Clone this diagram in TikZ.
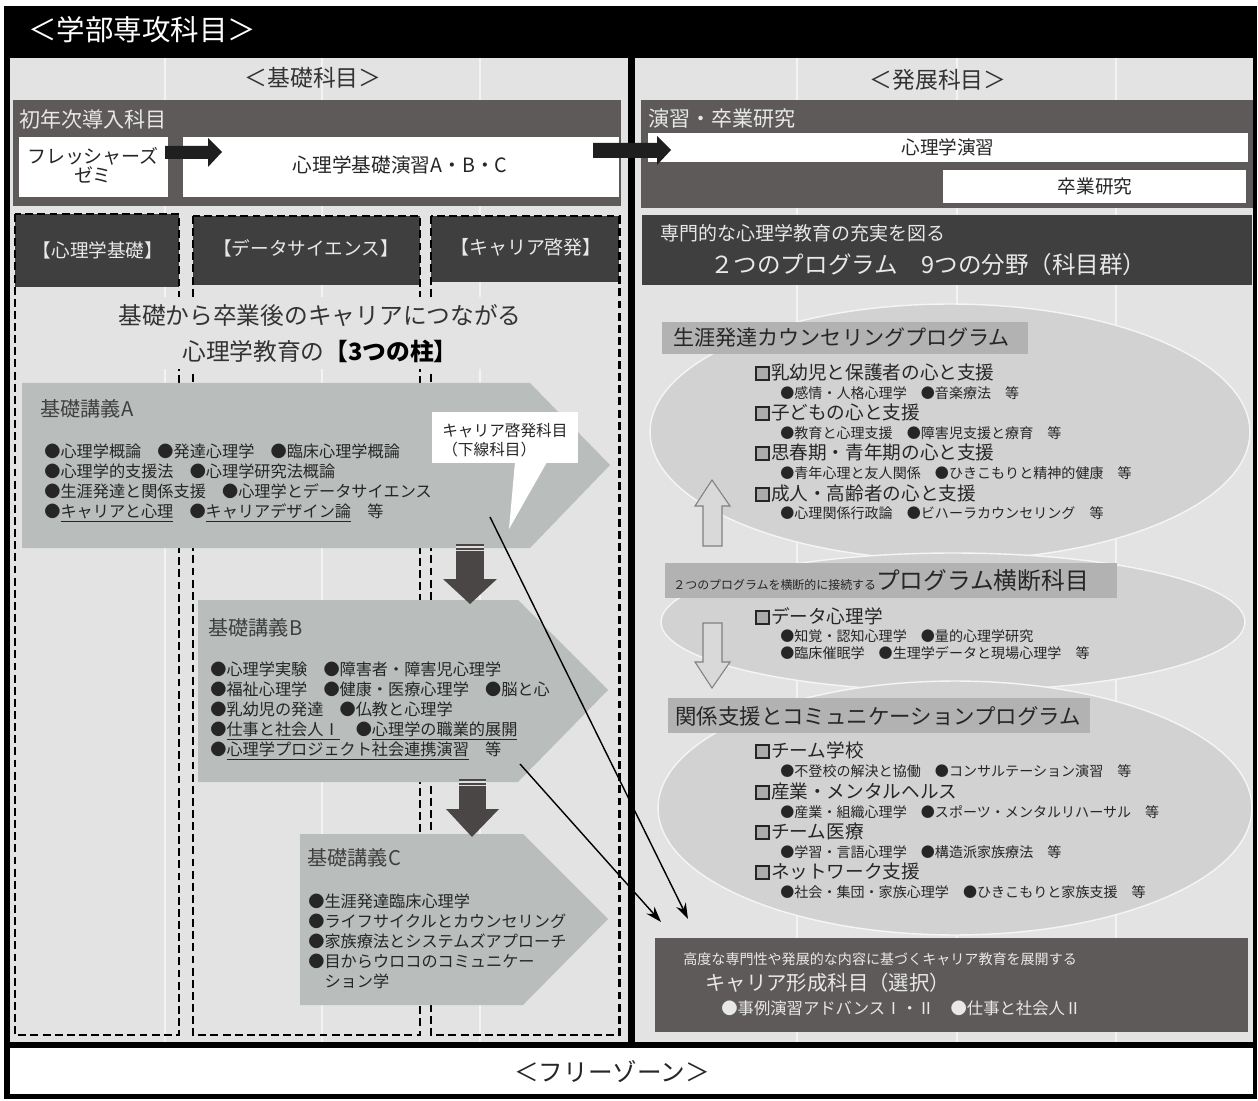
\documentclass[tikz,border=0pt]{standalone}
\usepackage{fontspec}
\setmainfont{Noto Sans CJK JP}
\usetikzlibrary{arrows.meta}

\definecolor{panelgray}{HTML}{E3E3E3}
\definecolor{boxbrown}{HTML}{5E5A59}
\definecolor{boxdark}{HTML}{3F3F3F}
\definecolor{pentgray}{HTML}{B9BDBC}
\definecolor{arrowdark}{HTML}{4A4646}
\definecolor{ellgray}{HTML}{D2D2D2}
\definecolor{labgray}{HTML}{B2B2B2}
\definecolor{txtdark}{HTML}{262626}
\definecolor{txtlight}{HTML}{E8E8E8}

\newcommand{\fsz}[2]{\fontsize{#1}{#2}\selectfont}
\newcommand{\sq}{\tikz[baseline=0pt]\draw[fill=gray!65, draw=black!85, line width=0.9pt] (0.06em,-0.04em) rectangle (0.74em,0.64em);\hspace{0.08em}}

\tikzset{
	txt/.style={inner sep=0pt, text=txtdark},
	ltxt/.style={inner sep=0pt, text=txtlight},
	pillar/.style={draw=black, line width=1.7pt, dash pattern=on 4.5pt off 2.4pt},
	blockarr/.style={fill=black!88},
	downarr/.style={fill=arrowdark},
	stripe/.style={draw=white!75!gray, line width=0.6pt},
	ell/.style={fill=ellgray, draw=white!92!gray, line width=0.8pt},
	hollowarr/.style={fill=gray!30, draw=gray, line width=0.6pt},
	item/.style={txt, anchor=west, font=\fsz{10.6}{12}},
	subitem/.style={txt, anchor=west, font=\fsz{8}{9}},
	bullets/.style={txt, anchor=north west, align=left, font=\fsz{9.2}{11.4}},
	lecture/.style={inner sep=0pt, text=black!75, anchor=west, font=\fsz{11.5}{12}},
	linkarr/.style={-{Stealth[length=9pt,width=6pt]}, line width=0.8pt},
}

\begin{document}
\begin{tikzpicture}[x=0.02cm,y=-0.02cm] % coordinates in pixels
	\useasboundingbox (0,0) rectangle (1258,1101);
	\fill[white] (0,0) rectangle (1258,1101);

	% frame and the two panels
	\fill[black] (4,6) rectangle (1257,1099);
	\fill[panelgray] (10,58) rectangle (628,1042);
	\fill[panelgray] (635,58) rectangle (1253,1042);
	\fill[white] (10,1048) rectangle (1253,1094);
	\draw[white!55!panelgray, line width=1pt] (165,58) -- (165,1042) (322,58) -- (322,1042) (480,58) -- (480,1042)
		(797,58) -- (797,1042) (957,58) -- (957,1042) (1116,58) -- (1116,1042);

	\node[anchor=west, inner sep=0pt, text=white, font=\fsz{16.2}{17}] (hdr) at (28,30) {＜学部専攻科目＞};
	\node[txt, text=black!80, font=\fsz{13}{14}] (basic) at (313,78) {＜基礎科目＞};
	\node[txt, text=black!80, font=\fsz{13}{14}] (adv) at (938,80) {＜発展科目＞};

	% first year block
	\fill[boxbrown] (13,100) rectangle (621,206);
	\node[ltxt, anchor=west, font=\fsz{12}{13}] (first) at (19,119) {初年次導入科目};
	\fill[white] (19,137) rectangle (168,197);
	\fill[white] (183,137) rectangle (619,197);
	\node[txt, align=center, font=\fsz{10.8}{11}] (fresh) at (93,165) {フレッシャーズ\\ゼミ};
	\node[txt, font=\fsz{11.2}{12}] (enshuA) at (400,165) {心理学基礎演習A・B・C};
	\fill[blockarr] (165,146) -- (208,146) -- (208,138) -- (222,152) -- (208,167) -- (208,159) -- (165,159) -- cycle;

	% seminar block
	\fill[boxbrown] (641,100) rectangle (1253,208);
	\node[ltxt, anchor=west, font=\fsz{12}{13}] (semi) at (648,119) {演習・卒業研究};
	\fill[white] (648,133) rectangle (1248,162);
	\fill[white] (943,170) rectangle (1246,203);
	\node[txt, font=\fsz{10.6}{12}] (psyen) at (948,147) {心理学演習};
	\node[txt, font=\fsz{10.6}{12}] (thesis) at (1095,186) {卒業研究};
	\fill[blockarr] (593,143) -- (657,143) -- (657,136) -- (671,150) -- (657,165) -- (657,158) -- (593,158) -- cycle;

	% three pillars
	\fill[boxdark] (15,214) rectangle (179,287);
	\fill[boxdark] (193,216) rectangle (420,285);
	\fill[boxdark] (431,216) rectangle (619,282);
	\draw[pillar] (15,214) rectangle (179,1035);
	\draw[pillar] (193,216) rectangle (420,1035);
	\draw[pillar] (431,216) rectangle (619,1035);
	\node[ltxt, font=\fsz{10.6}{11}] (col1) at (98,250) {【心理学基礎】};
	\node[ltxt, font=\fsz{10.6}{11}] (col2) at (306,248) {【データサイエンス】};
	\node[ltxt, font=\fsz{10.8}{11}] (col3) at (526,247) {【キャリア啓発】};

	\fill[panelgray] (22,297) rectangle (612,369);
	\node[txt, text=black!80, font=\fsz{13.5}{14}] (lead1) at (320,316) {基礎から卒業後のキャリアにつながる};
	\node[txt, text=black!80, font=\fsz{13.5}{14}] (lead2) at (320,351) {心理学教育の{\color{black}\textbf{【3つの柱】}}};

	% lecture A
	\fill[pentgray] (22,383) -- (530,383) -- (610,465) -- (530,548) -- (22,548) -- cycle;
	\node[lecture] (lecA) at (40,409) {基礎講義A};
	\node[bullets] (listA) at (44,443) {●心理学概論　●発達心理学　●臨床心理学概論\\
		●心理学的支援法　●心理学研究法概論\\
		●生涯発達と関係支援　●心理学とデータサイエンス\\
		●\underline{キャリアと心理}　●\underline{キャリアデザイン論}　等};
	\fill[white] (432,412) rectangle (578,463);
	\fill[white] (515,462) -- (547,462) -- (509,529) -- cycle;
	\node[txt, anchor=north west, align=left, font=\fsz{8.9}{11}] (note) at (442,423) {キャリア啓発科目\\（下線科目）};
	\coordinate (fromA) at (490,517);

	% lecture B
	\fill[pentgray] (198,600) -- (518,600) -- (608,690) -- (518,782) -- (198,782) -- cycle;
	\node[lecture] (lecB) at (208,628) {基礎講義B};
	\node[bullets] (listB) at (210,661) {●心理学実験　●障害者・障害児心理学\\
		●福祉心理学　●健康・医療心理学　●脳と心\\
		●乳幼児の発達　●仏教と心理学\\
		●\underline{仕事と社会人Ⅰ}　●\underline{心理学の職業的展開}\\
		●\underline{心理学プロジェクト社会連携演習}　等};
	\coordinate (fromB) at (520,764);

	\fill[downarr] (456,544) rectangle (484,580);
	\fill[downarr] (443,579) -- (497,579) -- (470,604) -- cycle;
	\draw[stripe] (456,547) -- (484,547) (456,550.5) -- (484,550.5);

	% lecture C
	\fill[pentgray] (300,834) -- (523,834) -- (608,919) -- (523,1005) -- (300,1005) -- cycle;
	\node[lecture] (lecC) at (307,858) {基礎講義C};
	\node[bullets] (listC) at (308,893) {●生涯発達臨床心理学\\
		●ライフサイクルとカウンセリング\\
		●家族療法とシステムズアプローチ\\
		●目からウロコのコミュニケー\\
		\hphantom{●}ション学};

	\fill[downarr] (459,779) rectangle (486,810);
	\fill[downarr] (446,809) -- (499,809) -- (472,837) -- cycle;
	\draw[stripe] (459,782) -- (486,782) (459,785.5) -- (486,785.5);

	% right panel
	\fill[boxdark] (642,215) rectangle (1252,285);
	\node[ltxt, anchor=west, font=\fsz{10.8}{12}] (aim1) at (660,233) {専門的な心理学教育の充実を図る};
	\node[ltxt, anchor=west, font=\fsz{13.4}{14}] (aim2) at (710,265) {２つのプログラム　9つの分野（科目群）};

	\fill[ell] (950,432) ellipse [x radius=6cm, y radius=2.56cm];
	\fill[ell] (953,622) ellipse [x radius=5.84cm, y radius=1.38cm];
	\fill[ell] (955,808) ellipse [x radius=5.94cm, y radius=2.54cm];

	\fill[labgray] (662,322) rectangle (1028,354);
	\node[txt, anchor=west, font=\fsz{12}{13}] (prog1) at (673,338) {生涯発達カウンセリングプログラム};
	\node[item] (i11) at (755,372) {\sq 乳幼児と保護者の心と支援};
	\node[subitem] (s11) at (780,393) {●感情・人格心理学　●音楽療法　等};
	\node[item] (i12) at (755,412) {\sq 子どもの心と支援};
	\node[subitem] (s12) at (780,433) {●教育と心理支援　●障害児支援と療育　等};
	\node[item] (i13) at (755,452) {\sq 思春期・青年期の心と支援};
	\node[subitem] (s13) at (780,473) {●青年心理と友人関係　●ひきこもりと精神的健康　等};
	\node[item] (i14) at (755,493) {\sq 成人・高齢者の心と支援};
	\node[subitem] (s14) at (780,513) {●心理関係行政論　●ビハーラカウンセリング　等};
	\draw[hollowarr] (703,546) -- (703,506) -- (695,506) -- (712,480) -- (730,506) -- (722,506) -- (722,546) -- cycle;

	\fill[labgray] (665,563) rectangle (1117,598);
	\node[txt, anchor=base west] (cross) at (673,589) {{\fsz{6.8}{7}２つのプログラムを横断的に接続する}{\fsz{13.5}{14}プログラム横断科目}};
	\node[item] (i21) at (755,616) {\sq データ心理学};
	\node[subitem] (s21) at (780,636) {●知覚・認知心理学　●量的心理学研究};
	\node[subitem] (s22) at (780,653) {●臨床催眠学　●生理学データと現場心理学　等};
	\draw[hollowarr] (703,623) -- (722,623) -- (722,662) -- (730,662) -- (712,688) -- (695,662) -- (703,662) -- cycle;

	\fill[labgray] (668,698) rectangle (1090,733);
	\node[txt, anchor=west, font=\fsz{12.2}{13}] (prog2) at (675,716) {関係支援とコミュニケーションプログラム};
	\node[item] (i31) at (755,750) {\sq チーム学校};
	\node[subitem] (s31) at (780,771) {●不登校の解決と協働　●コンサルテーション演習　等};
	\node[item] (i32) at (755,791) {\sq 産業・メンタルヘルス};
	\node[subitem] (s32) at (780,812) {●産業・組織心理学　●スポーツ・メンタルリハーサル　等};
	\node[item] (i33) at (755,831) {\sq チーム医療};
	\node[subitem] (s33) at (780,852) {●学習・言語心理学　●構造派家族療法　等};
	\node[item] (i34) at (755,871) {\sq ネットワーク支援};
	\node[subitem] (s34) at (780,892) {●社会・集団・家族心理学　●ひきこもりと家族支援　等};

	% career block
	\fill[boxbrown] (655,938) rectangle (1248,1032);
	\node[ltxt, anchor=west, font=\fsz{8}{9}] (car0) at (683,959) {高度な専門性や発展的な内容に基づくキャリア教育を展開する};
	\node[ltxt, anchor=west, font=\fsz{11.6}{12}] (car1) at (705,983) {キャリア形成科目（選択）};
	\node[ltxt, anchor=west, font=\fsz{9.3}{10}] (car2) at (721,1008) {●事例演習アドバンスⅠ・Ⅱ　●仕事と社会人Ⅱ};
	\coordinate (toA) at (688,919);
	\coordinate (toB) at (661,922);

	\draw[linkarr] (fromA) -- (toA);
	\draw[linkarr] (fromB) -- (toB);

	\node[txt, text=black!85, font=\fsz{14}{15}] (free) at (612,1072) {＜フリーゾーン＞};
\end{tikzpicture}
\end{document}
